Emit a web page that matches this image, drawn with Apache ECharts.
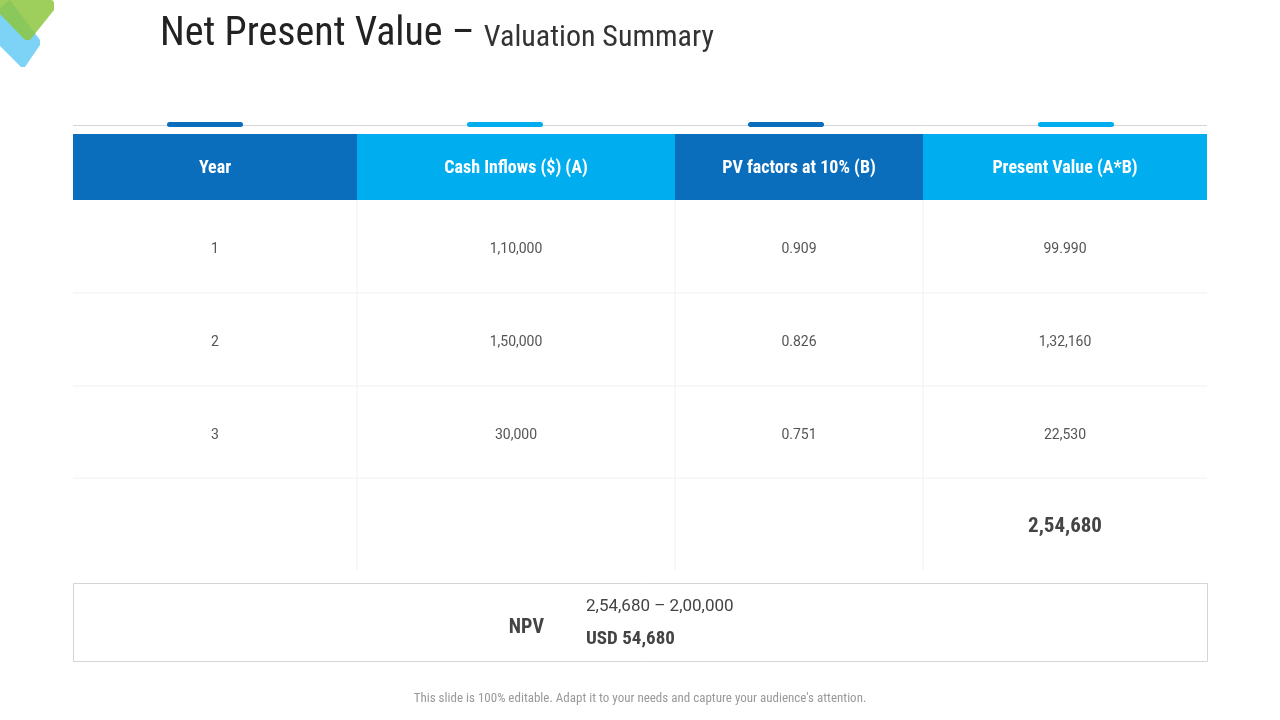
<!DOCTYPE html><html><head><meta charset="utf-8"><script src="https://cdn.jsdelivr.net/npm/echarts@6/dist/echarts.min.js"></script>
<style>html,body{margin:0;background:#fff}#c{width:1280px;height:720px}</style></head><body><div id="c"></div><script>
const headers=['Year','Cash Inflows ($) (A)','PV factors at 10% (B)','Present Value (A*B)'];
const years=['1','2','3'];
const cashInflows=['1,10,000','1,50,000','30,000'];
const pvFactors=['0.909','0.826','0.751'];
const presentValues=['99.990','1,32,160','22,530'];
const totalPV='2,54,680';
const npvFormula='2,54,680 – 2,00,000';
const npvResult='USD 54,680';
const F="'Liberation Sans Narrow','Roboto Condensed',Roboto,sans-serif";
const colX=[73,357,675,923,1207];
const hdrColors=['#0A6EBD','#00AEEF','#0A6EBD','#00AEEF'];
const rowY=[200,293,386,478,570];
const g=[];
g.push({type:'polygon',shape:{points:[[0,8],[10,0],[40,40],[40,45],[25,67],[21,67],[0,46]]},style:{fill:'#7DD3F5'}});
g.push({type:'polygon',shape:{points:[[22,-30],[54,2],[54,10],[30,40],[25,40],[0,14],[0,-30]]},style:{fill:'#8DC63F',opacity:0.85}});
g.push({type:'text',x:160,y:35,style:{text:'{a|Net Present Value – }{b|Valuation Summary}',verticalAlign:'middle',rich:{a:{font:'40px '+F,fill:'#222'},b:{font:'30px '+F,fill:'#333',padding:[6,0,0,0]}}}});
g.push({type:'line',shape:{x1:73,y1:125.5,x2:1207,y2:125.5},style:{stroke:'#d5d5d5',lineWidth:1}});
const acc=[[167,'#0A6EBD'],[467,'#00AEEF'],[748,'#0A6EBD'],[1038,'#00AEEF']];
acc.forEach(a=>g.push({type:'rect',shape:{x:a[0],y:122,width:76,height:5,r:2.5},style:{fill:a[1]}}));
headers.forEach((h,i)=>{
 g.push({type:'rect',shape:{x:colX[i],y:134,width:colX[i+1]-colX[i],height:66},style:{fill:hdrColors[i]}});
 g.push({type:'text',x:(colX[i]+colX[i+1])/2,y:168,style:{text:h,font:'bold 18px '+F,fill:'#fff',align:'center',verticalAlign:'middle'}});
});
for(let i=1;i<4;i++)g.push({type:'line',shape:{x1:colX[i],y1:200,x2:colX[i],y2:570},style:{stroke:'#f0f0f0',lineWidth:1}});
for(let r=1;r<4;r++)g.push({type:'line',shape:{x1:73,y1:rowY[r],x2:1207,y2:rowY[r]},style:{stroke:'#f0f0f0',lineWidth:1}});
const cols=[years,cashInflows,pvFactors,presentValues];
for(let r=0;r<3;r++)cols.forEach((c,i)=>g.push({type:'text',x:(colX[i]+colX[i+1])/2,y:(rowY[r]+rowY[r+1])/2+3,style:{text:c[r],font:'14px Roboto,sans-serif',fill:'#555',align:'center',verticalAlign:'middle'}}));
g.push({type:'text',x:(colX[3]+colX[4])/2,y:527,style:{text:totalPV,font:'bold 21px '+F,fill:'#444',align:'center',verticalAlign:'middle'}});
g.push({type:'rect',shape:{x:73.5,y:583.5,width:1134,height:78},style:{fill:'none',stroke:'#d5d5d5',lineWidth:1}});
g.push({type:'text',x:544,y:628,style:{text:'NPV',font:'bold 20px '+F,fill:'#444',align:'right',verticalAlign:'middle'}});
g.push({type:'text',x:586,y:607,style:{text:npvFormula,font:'17px Roboto,sans-serif',fill:'#444',verticalAlign:'middle'}});
g.push({type:'text',x:586,y:639,style:{text:npvResult,font:'bold 19px '+F,fill:'#444',verticalAlign:'middle'}});
g.push({type:'text',x:640,y:699,style:{text:"This slide is 100% editable. Adapt it to your needs and capture your audience's attention.",font:'13px '+F,fill:'#999',align:'center',verticalAlign:'middle'}});
echarts.init(document.getElementById('c')).setOption({animation:false,graphic:{elements:g}});
</script></body></html>
